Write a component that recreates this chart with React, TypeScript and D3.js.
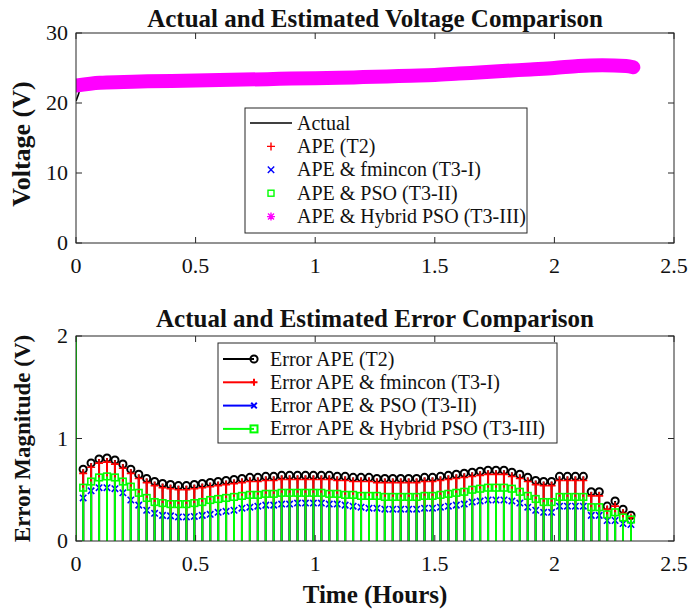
import React from "react";
import * as d3 from "d3";

// Axis ticks
const hourTicks = [0, 0.5, 1, 1.5, 2, 2.5];
const voltageTicks = [0, 10, 20, 30];
const errorTicks = [0, 1, 2];

// Voltage panel (hours, volts)
const voltageHours = [0, 0.1, 0.2, 0.3, 0.4, 0.5, 0.6, 0.7, 0.8, 0.9, 1.0, 1.1, 1.2, 1.3, 1.4, 1.5, 1.6, 1.7, 1.8, 1.9, 2.0, 2.1, 2.2, 2.3, 2.33];
const hybridPsoVoltage = [22.5, 22.9, 23.0, 23.1, 23.15, 23.2, 23.3, 23.35, 23.4, 23.5, 23.55, 23.6, 23.7, 23.8, 23.9, 24.0, 24.2, 24.4, 24.6, 24.8, 25.0, 25.3, 25.4, 25.3, 25.1];
const actualHours = [0, 0.01, 0.02, 0.1, 0.2, 0.3, 0.4, 0.5, 0.6, 0.7, 0.8, 0.9, 1.0, 1.1, 1.2, 1.3, 1.4, 1.5, 1.6, 1.7, 1.8, 1.9, 2.0, 2.1, 2.2, 2.3, 2.33];
const actualVoltage = [20.3, 21.2, 22.3, 22.9, 23.0, 23.1, 23.15, 23.2, 23.3, 23.35, 23.4, 23.5, 23.55, 23.6, 23.7, 23.8, 23.9, 24.0, 24.2, 24.4, 24.6, 24.8, 25.0, 25.3, 25.4, 25.3, 25.1];

// Error panel: first stem at t = 0 (off scale), then one sample every ~2 minutes
const sampleStartHours = 0.03;
const sampleStepHours = 0.03319;
const sampleCount = 70;
const errorHours = [0, ...d3.range(sampleCount).map((i) => sampleStartHours + i * sampleStepHours)];

const errorApeT2 = [2.6,
  0.70, 0.76, 0.80, 0.81, 0.79, 0.75, 0.70, 0.65, 0.61, 0.58, 0.56, 0.55, 0.54, 0.54, 0.55, 0.56, 0.57,
  0.58, 0.59, 0.60, 0.61, 0.62, 0.62, 0.63, 0.63, 0.64, 0.64, 0.64, 0.64, 0.64,
  0.64, 0.64, 0.63, 0.63, 0.62, 0.62, 0.62, 0.61, 0.61, 0.61, 0.61, 0.61, 0.61, 0.62, 0.62,
  0.63, 0.64, 0.65, 0.66, 0.67, 0.68, 0.69, 0.69, 0.69,
  0.67, 0.65, 0.62, 0.59, 0.58, 0.58, 0.63, 0.63, 0.63, 0.63,
  0.48, 0.48, 0.34, 0.39, 0.31, 0.25];
const errorFmincon = [2.6,
  0.66, 0.72, 0.76, 0.77, 0.75, 0.71, 0.66, 0.61, 0.57, 0.54, 0.52, 0.51, 0.50, 0.50, 0.51, 0.52, 0.53,
  0.54, 0.55, 0.56, 0.57, 0.58, 0.58, 0.59, 0.59, 0.60, 0.60, 0.60, 0.60, 0.60,
  0.60, 0.60, 0.59, 0.59, 0.58, 0.58, 0.58, 0.57, 0.57, 0.57, 0.57, 0.57, 0.57, 0.58, 0.58,
  0.59, 0.60, 0.61, 0.62, 0.63, 0.64, 0.65, 0.65, 0.65,
  0.63, 0.61, 0.58, 0.55, 0.54, 0.54, 0.59, 0.59, 0.59, 0.59,
  0.44, 0.44, 0.31, 0.34, 0.27, 0.23];
const errorPso = [2.6,
  0.42, 0.49, 0.52, 0.52, 0.51, 0.47, 0.40, 0.35, 0.30, 0.27, 0.25, 0.245, 0.235, 0.235, 0.24, 0.25, 0.26,
  0.28, 0.29, 0.30, 0.32, 0.33, 0.34, 0.35, 0.35, 0.36, 0.36, 0.37, 0.37, 0.37,
  0.37, 0.36, 0.36, 0.35, 0.34, 0.33, 0.32, 0.32, 0.31, 0.31, 0.31, 0.31, 0.31, 0.32, 0.32,
  0.33, 0.34, 0.35, 0.36, 0.38, 0.39, 0.40, 0.40, 0.40,
  0.39, 0.37, 0.33, 0.30, 0.28, 0.28, 0.34, 0.34, 0.34, 0.34,
  0.25, 0.25, 0.20, 0.20, 0.17, 0.16];
const errorHybridPso = [2.6,
  0.52, 0.58, 0.62, 0.63, 0.62, 0.58, 0.53, 0.47, 0.42, 0.38, 0.37, 0.36, 0.36, 0.36, 0.37, 0.38, 0.40,
  0.41, 0.42, 0.43, 0.44, 0.45, 0.45, 0.46, 0.46, 0.47, 0.47, 0.47, 0.47, 0.47,
  0.47, 0.46, 0.46, 0.45, 0.45, 0.44, 0.44, 0.44, 0.43, 0.43, 0.43, 0.43, 0.43, 0.44, 0.44,
  0.45, 0.46, 0.47, 0.48, 0.50, 0.51, 0.52, 0.52, 0.52,
  0.51, 0.48, 0.44, 0.41, 0.38, 0.38, 0.43, 0.43, 0.43, 0.43,
  0.33, 0.33, 0.26, 0.28, 0.23, 0.21];

const topLegendLabels = ["Actual", "APE (T2)", "APE & fmincon (T3-I)", "APE & PSO (T3-II)", "APE & Hybrid PSO (T3-III)"];
const bottomLegendLabels = ["Error APE (T2)", "Error APE & fmincon (T3-I)", "Error APE & PSO (T3-II)", "Error APE & Hybrid PSO (T3-III)"];

const FONT = "'Liberation Serif', 'Times New Roman', serif";
const AXIS = "#262626";

type MarkerKind = "circle" | "plus" | "cross" | "square" | "star";

function Marker({ kind, x, y, color, size = 4, width = 1.5 }: { kind: MarkerKind; x: number; y: number; color: string; size?: number; width?: number }) {
  const s = size;
  if (kind === "circle") return <circle cx={x} cy={y} r={s} fill="none" stroke={color} strokeWidth={width} />;
  if (kind === "square") return <rect x={x - s} y={y - s} width={2 * s} height={2 * s} fill="none" stroke={color} strokeWidth={width} />;
  if (kind === "plus") return <path d={`M${x - s},${y}H${x + s}M${x},${y - s}V${y + s}`} stroke={color} strokeWidth={width} />;
  if (kind === "cross") {
    const d = s * 0.8;
    return <path d={`M${x - d},${y - d}L${x + d},${y + d}M${x - d},${y + d}L${x + d},${y - d}`} stroke={color} strokeWidth={width} />;
  }
  const d = s * 0.75;
  return (
    <path
      d={`M${x - s},${y}H${x + s}M${x},${y - s}V${y + s}M${x - d},${y - d}L${x + d},${y + d}M${x - d},${y + d}L${x + d},${y - d}`}
      stroke={color}
      strokeWidth={width}
    />
  );
}

function Frame({ x, y, xTicks, yTicks, yFmt }: { x: d3.ScaleLinear<number, number>; y: d3.ScaleLinear<number, number>; xTicks: number[]; yTicks: number[]; yFmt: (v: number) => string }) {
  const [x0, x1] = x.range();
  const [y0, y1] = y.range();
  const tl = 6;
  return (
    <g>
      <rect x={x0} y={y1} width={x1 - x0} height={y0 - y1} fill="none" stroke={AXIS} strokeWidth={1} />
      {xTicks.map((t) => (
        <g key={`xt${t}`}>
          <line x1={x(t)} x2={x(t)} y1={y0} y2={y0 - tl} stroke={AXIS} />
          <line x1={x(t)} x2={x(t)} y1={y1} y2={y1 + tl} stroke={AXIS} />
          <text x={x(t)} y={y0 + 30} textAnchor="middle" fontFamily={FONT} fontSize={22} fill="#111">
            {String(t)}
          </text>
        </g>
      ))}
      {yTicks.map((t) => (
        <g key={`yt${t}`}>
          <line x1={x0} x2={x0 + tl} y1={y(t)} y2={y(t)} stroke={AXIS} />
          <line x1={x1} x2={x1 - tl} y1={y(t)} y2={y(t)} stroke={AXIS} />
          <text x={x0 - 8} y={y(t) + 7} textAnchor="end" fontFamily={FONT} fontSize={22} fill="#111">
            {yFmt(t)}
          </text>
        </g>
      ))}
    </g>
  );
}

export default function App() {
  const x = d3.scaleLinear().domain([0, 2.5]).range([76, 674]);
  const yV = d3.scaleLinear().domain([0, 30]).range([243, 33]);
  const yE = d3.scaleLinear().domain([0, 2]).range([541, 336]);

  const vLine = d3
    .line<number>()
    .x((_, i) => x(voltageHours[i]))
    .y((v) => yV(v))
    .curve(d3.curveMonotoneX);
  const aLine = d3
    .line<number>()
    .x((_, i) => x(actualHours[i]))
    .y((v) => yV(v))
    .curve(d3.curveMonotoneX);

  const errorSeries: { values: number[]; color: string; marker: MarkerKind; size: number }[] = [
    { values: errorApeT2, color: "#000000", marker: "circle", size: 3.6 },
    { values: errorFmincon, color: "#ff0000", marker: "plus", size: 4 },
    { values: errorPso, color: "#0000ff", marker: "cross", size: 4 },
    { values: errorHybridPso, color: "#00ff00", marker: "square", size: 3.3 },
  ];

  const topLegendMarks: { color: string; marker: MarkerKind | "line" }[] = [
    { color: "#000000", marker: "line" },
    { color: "#ff0000", marker: "plus" },
    { color: "#0000ff", marker: "cross" },
    { color: "#00ff00", marker: "square" },
    { color: "#ff00ff", marker: "star" },
  ];

  return (
    <svg width={690} height={611} viewBox="0 0 690 611" style={{ display: "block", position: "absolute", left: 0, top: 0, background: "#fff" }}>
      <defs>
        <clipPath id="clipV">
          <rect x={76} y={33} width={598} height={210} />
        </clipPath>
        <clipPath id="clipE">
          <rect x={76} y={336} width={598} height={205} />
        </clipPath>
      </defs>
      <rect x={0} y={0} width={690} height={611} fill="#fff" />

      {/* Voltage panel */}
      <text x={375} y={27} textAnchor="middle" fontFamily={FONT} fontSize={25} fontWeight="bold" fill="#111">
        Actual and Estimated Voltage Comparison
      </text>
      <g clipPath="url(#clipV)">
        <path d={aLine(actualVoltage) ?? ""} fill="none" stroke="#000" strokeWidth={1.6} />
        <path d={vLine(hybridPsoVoltage) ?? ""} fill="none" stroke="#ff00ff" strokeWidth={14} strokeLinecap="round" strokeLinejoin="round" />
      </g>
      <Frame x={x} y={yV} xTicks={hourTicks} yTicks={voltageTicks} yFmt={(v) => String(v)} />
      <text transform={`translate(30,${(33 + 243) / 2 + 6}) rotate(-90)`} textAnchor="middle" fontFamily={FONT} fontSize={26} fontWeight="bold" fill="#111">
        Voltage (V)
      </text>

      {/* Voltage legend */}
      <g>
        <rect x={245} y={108} width={282} height={125} fill="#fff" stroke={AXIS} strokeWidth={1} />
        {topLegendLabels.map((label, i) => {
          const cy = 123 + i * 23.4;
          const m = topLegendMarks[i];
          return (
            <g key={label}>
              {m.marker === "line" ? (
                <line x1={250} x2={292} y1={cy} y2={cy} stroke={m.color} strokeWidth={1.6} />
              ) : (
                <Marker kind={m.marker} x={271} y={cy} color={m.color} size={m.marker === "square" ? 3 : 4} width={1.4} />
              )}
              <text x={297} y={cy + 6.5} fontFamily={FONT} fontSize={20} fill="#111">
                {label}
              </text>
            </g>
          );
        })}
      </g>

      {/* Error panel */}
      <text x={375} y={327} textAnchor="middle" fontFamily={FONT} fontSize={25} fontWeight="bold" fill="#111">
        Actual and Estimated Error Comparison
      </text>
      <g clipPath="url(#clipE)">
        {errorSeries.map((s) => (
          <g key={s.color}>
            {s.values.map((v, i) => (
              <line key={`s${i}`} x1={x(errorHours[i])} x2={x(errorHours[i])} y1={yE(0)} y2={yE(v)} stroke={s.color} strokeWidth={2} />
            ))}
            {s.values.map((v, i) => (
              <Marker key={`m${i}`} kind={s.marker} x={x(errorHours[i])} y={yE(v)} color={s.color} size={s.size} width={s.marker === "circle" ? 2 : 1.6} />
            ))}
          </g>
        ))}
      </g>
      <Frame x={x} y={yE} xTicks={hourTicks} yTicks={errorTicks} yFmt={(v) => String(v)} />
      <text transform={`translate(30,${(336 + 541) / 2}) rotate(-90)`} textAnchor="middle" fontFamily={FONT} fontSize={23} fontWeight="bold" fill="#111">
        Error Magnitude (V)
      </text>
      <text x={375} y={603} textAnchor="middle" fontFamily={FONT} fontSize={25} fontWeight="bold" fill="#111">
        Time (Hours)
      </text>

      {/* Error legend */}
      <g>
        <rect x={218} y={343} width={339} height={100} fill="#fff" stroke={AXIS} strokeWidth={1} />
        {bottomLegendLabels.map((label, i) => {
          const cy = 359 + i * 23.3;
          const s = errorSeries[i];
          return (
            <g key={label}>
              <line x1={223} x2={254} y1={cy} y2={cy} stroke={s.color} strokeWidth={2} />
              <Marker kind={s.marker} x={254} y={cy} color={s.color} size={s.marker === "circle" ? 3.6 : 3.5} width={2} />
              <text x={270} y={cy + 6.5} fontFamily={FONT} fontSize={20} fill="#111">
                {label}
              </text>
            </g>
          );
        })}
      </g>
    </svg>
  );
}
